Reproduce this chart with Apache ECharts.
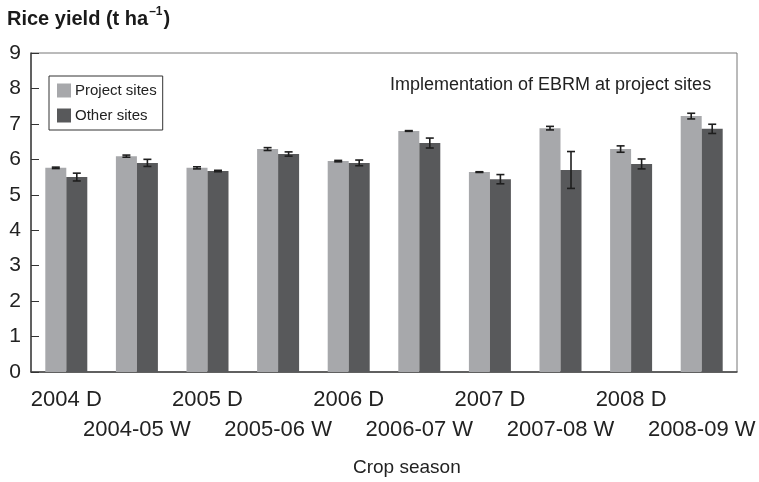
<!DOCTYPE html>
<html><head><meta charset="utf-8">
<script src="https://cdn.jsdelivr.net/npm/echarts@6/dist/echarts.min.js"></script>
<style>html,body{margin:0;padding:0;background:#fff}#c{width:759px;height:482px}</style>
</head><body><div id="c"></div>
<script>
const categories = ['2004 D','2004-05 W','2005 D','2005-06 W','2006 D','2006-07 W','2007 D','2007-08 W','2008 D','2008-09 W'];
const projectSites = [5.76, 6.09, 5.76, 6.29, 5.95, 6.80, 5.64, 6.88, 6.29, 7.22];
const projectErr   = [0.02, 0.03, 0.03, 0.04, 0.02, 0.01, 0.01, 0.05, 0.09, 0.08];
const otherSites   = [5.50, 5.90, 5.67, 6.15, 5.90, 6.46, 5.44, 5.70, 5.87, 6.86];
const otherErr     = [0.11, 0.10, 0.02, 0.06, 0.08, 0.14, 0.13, 0.52, 0.14, 0.13];
const yTicks = [0,1,2,3,4,5,6,7,8,9];

const chart = echarts.init(document.getElementById('c'));
const FONT = '"Liberation Sans", Arial, sans-serif';
function errSeries(vals, errs, offset){
  return {
    type:'custom', z:10,
    data: vals.map((v,i)=>[i, v, errs[i]]),
    renderItem(params, api){
      const i = api.value(0), v = api.value(1), e = api.value(2);
      const c = api.coord([i, v]);
      const x = c[0] + offset;
      const top = api.coord([i, v+e])[1], bot = api.coord([i, v-e])[1];
      const cw = 4;
      const st = {stroke:'#1e1e1e', lineWidth:1.6};
      return {type:'group', children:[
        {type:'line', shape:{x1:x,y1:top,x2:x,y2:bot}, style:st},
        {type:'line', shape:{x1:x-cw,y1:top,x2:x+cw,y2:top}, style:st},
        {type:'line', shape:{x1:x-cw,y1:bot,x2:x+cw,y2:bot}, style:st}
      ]};
    }
  };
}
chart.setOption({
  animation:false,
  textStyle:{fontFamily:FONT},
  title:{
    text:'{a|Rice yield (t ha}{s|–1}{a|)}', left:7, top:6, padding:0,
    textStyle:{rich:{
      a:{fontFamily:FONT, fontWeight:'bold', fontSize:20, color:'#1a1a1a', lineHeight:23, verticalAlign:'bottom'},
      s:{fontFamily:FONT, fontWeight:'bold', fontSize:12, color:'#1a1a1a', lineHeight:23, verticalAlign:'top', padding:[0,1,0,1]}
    }}
  },
  legend:{
    left:49, top:76, orient:'vertical', itemWidth:14, itemHeight:14, itemGap:10, icon:'rect',
    padding:[7,6,7,8], borderColor:'#333', borderWidth:1,
    textStyle:{fontSize:15, color:'#222', fontFamily:FONT, padding:[0,0,0,-1]},
    data:['Project sites','Other sites']
  },
  graphic:[
    {type:'text', left:390, top:76, style:{text:'Implementation of EBRM at project sites', fontSize:18, fontFamily:FONT, fill:'#222'}},
    {type:'text', left:353, top:458, style:{text:'Crop season', fontSize:19, fontFamily:FONT, fill:'#222'}}
  ],
  grid:{left:31, right:22, top:53, bottom:110, show:true, borderColor:'#777', borderWidth:1},
  xAxis:{
    type:'category', data:categories,
    axisLine:{lineStyle:{color:'#444', width:1.5}},
    axisTick:{inside:true, length:5, lineStyle:{color:'#333'}},
    axisLabel:{interval:0, fontSize:22, color:'#222', margin:13, lineHeight:30,
      formatter:(v,i)=> i%2 ? '\n'+v : v}
  },
  yAxis:{
    type:'value', min:yTicks[0], max:yTicks[yTicks.length-1], interval:1,
    splitLine:{show:false},
    axisLine:{show:true, lineStyle:{color:'#444', width:1.5}},
    axisTick:{show:true, inside:true, length:8, lineStyle:{color:'#333'}},
    axisLabel:{fontSize:21, color:'#222', margin:10}
  },
  series:[
    {name:'Project sites', type:'bar', data:projectSites, barWidth:21, barGap:'0%', itemStyle:{color:'#a7a8ab'}},
    {name:'Other sites', type:'bar', data:otherSites, barWidth:21, barGap:'0%', itemStyle:{color:'#58595b'}},
    errSeries(projectSites, projectErr, -10.5),
    errSeries(otherSites, otherErr, 10.5)
  ]
});
</script></body></html>
